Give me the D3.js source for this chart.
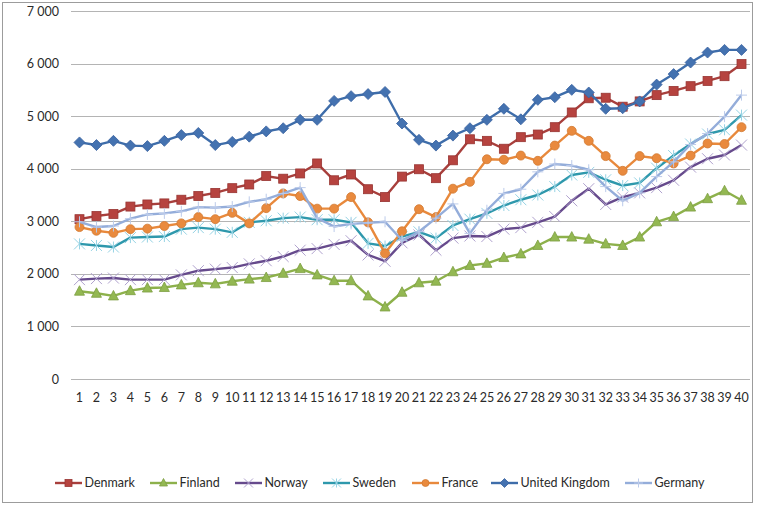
<!DOCTYPE html>
<html><head><meta charset="utf-8">
<script src="https://cdn.jsdelivr.net/npm/d3@7/dist/d3.min.js"></script>
<style>
html,body{margin:0;padding:0;background:#fff;}
svg{display:block;font-family:Lato,"Open Sans",sans-serif;}
</style></head>
<body>
<svg id="chart" width="757" height="506"></svg>
<script>
const categories = d3.range(1, 41);
const yTicks = [0, 1000, 2000, 3000, 4000, 5000, 6000, 7000];

const denmark = [3040,3100,3140,3280,3320,3340,3410,3480,3540,3630,3700,3860,3810,3910,4100,3780,3890,3610,3460,3850,3990,3820,4160,4560,4530,4380,4600,4650,4790,5070,5340,5350,5180,5280,5400,5480,5570,5670,5760,5990];
const finland = [1670,1630,1580,1680,1730,1740,1790,1830,1810,1860,1900,1930,2010,2100,1980,1870,1870,1580,1370,1650,1830,1860,2040,2160,2200,2310,2380,2540,2700,2700,2660,2570,2540,2700,2990,3090,3270,3430,3580,3400];
const norway = [1890,1910,1920,1890,1890,1890,1980,2060,2090,2120,2190,2250,2330,2450,2480,2560,2630,2360,2240,2590,2740,2450,2680,2720,2710,2850,2880,2980,3090,3390,3620,3320,3460,3540,3640,3780,4030,4190,4260,4450];
const sweden = [2570,2540,2510,2690,2700,2710,2850,2880,2850,2790,2980,3010,3060,3080,3030,3030,2980,2580,2530,2710,2800,2680,2920,3040,3150,3300,3410,3500,3660,3880,3930,3790,3680,3730,4010,4250,4470,4660,4740,5020];
const france = [2890,2820,2780,2850,2860,2910,2960,3080,3040,3160,2960,3250,3530,3480,3240,3240,3460,2980,2390,2810,3230,3080,3620,3750,4180,4170,4250,4150,4440,4720,4530,4240,3960,4240,4200,4100,4250,4480,4470,4790];
const uk = [4500,4450,4530,4440,4430,4530,4640,4680,4450,4510,4610,4710,4770,4930,4930,5290,5380,5420,5460,4860,4550,4440,4630,4770,4930,5140,4940,5310,5360,5500,5450,5140,5150,5280,5600,5800,6020,6210,6260,6260];
const germany = [2990,2890,2910,3050,3130,3150,3190,3270,3260,3280,3370,3420,3530,3640,3060,2900,2950,2970,2990,2640,2800,3060,3330,2770,3210,3530,3610,3940,4090,4060,3980,3660,3390,3540,3850,4130,4460,4670,4990,5400];

const seriesNames = ["Denmark","Finland","Norway","Sweden","France","United Kingdom","Germany"];
const seriesValues = [denmark, finland, norway, sweden, france, uk, germany];
const lineColors = ["#A83F3C","#8DB14B","#664A8C","#2E98AC","#E8893C","#3E6DAA","#94ADDA"];
const markerFill = ["#B6433F","#93B852","#B0A2CE","#96D3E4","#E98A3E","#4472B0","#BCCBEA"];
const markerStroke = ["#983532","#7E9E43","#B0A2CE","#96D3E4","#D27A32","#3A62A0","#BCCBEA"];
const markerShape = ["square","triangle","x","asterisk","circle","diamond","plus"];

const svg = d3.select("#chart");
svg.append("rect").attr("x",2.5).attr("y",2.5).attr("width",750).attr("height",500)
  .attr("fill","#fff").attr("stroke","#9c9c9c").attr("stroke-width",1);

const plotLeft = 71, plotRight = 750, plotTop = 11, plotBottom = 379;
const x = d3.scaleBand().domain(categories).range([plotLeft, plotRight]);
const y = d3.scaleLinear().domain([0, 7000]).range([plotBottom, plotTop]);

svg.append("g").selectAll("line").data(yTicks).join("line")
  .attr("x1", plotLeft).attr("x2", plotRight)
  .attr("y1", d => Math.round(y(d)) + 0.5).attr("y2", d => Math.round(y(d)) + 0.5)
  .attr("stroke", "#b4b4b4").attr("stroke-width", 1);

const yAxis = d3.axisLeft(y).tickValues(yTicks).tickSize(0).tickPadding(0)
  .tickFormat(d => d === 0 ? "0" : d3.format(",")(d).replace(",", " "));
const gy = svg.append("g").attr("transform", "translate(59,0)").call(yAxis);
gy.select(".domain").remove();
gy.selectAll("text").attr("font-size", 12.5).attr("fill", "#2a2a2a").attr("font-family", "Lato, sans-serif");

const xAxis = d3.axisBottom(x).tickSize(0).tickPadding(0);
const gx = svg.append("g").attr("transform", `translate(0,${plotBottom + 14})`).call(xAxis);
gx.select(".domain").remove();
gx.selectAll("text").attr("font-size", 12.5).attr("fill", "#2a2a2a").attr("font-family", "Lato, sans-serif");

const cx = d => x(d) + x.bandwidth() / 2;
const line = d3.line().x((d, i) => cx(categories[i])).y(d => y(d));

function drawMarker(g, shape, px, py, i, s) {
  const r = s / 2;
  if (shape === "square") {
    g.append("rect").attr("x", px - r).attr("y", py - r).attr("width", s).attr("height", s)
      .attr("fill", markerFill[i]).attr("stroke", markerStroke[i]).attr("stroke-width", 0.8);
  } else if (shape === "diamond") {
    g.append("path").attr("d", `M${px},${py - r - 1}L${px + r + 1},${py}L${px},${py + r + 1}L${px - r - 1},${py}Z`)
      .attr("fill", markerFill[i]).attr("stroke", markerStroke[i]).attr("stroke-width", 0.8);
  } else if (shape === "circle") {
    g.append("circle").attr("cx", px).attr("cy", py).attr("r", r)
      .attr("fill", markerFill[i]).attr("stroke", markerStroke[i]).attr("stroke-width", 0.8);
  } else if (shape === "triangle") {
    g.append("path").attr("d", `M${px},${py - r - 1}L${px + r + 0.5},${py + r - 0.5}L${px - r - 0.5},${py + r - 0.5}Z`)
      .attr("fill", markerFill[i]).attr("stroke", markerStroke[i]).attr("stroke-width", 0.8);
  } else {
    const rr = r + 1;
    let d = "";
    if (shape === "x" || shape === "asterisk") d += `M${px - rr},${py - rr}L${px + rr},${py + rr}M${px - rr},${py + rr}L${px + rr},${py - rr}`;
    if (shape === "asterisk") d += `M${px},${py - rr}L${px},${py + rr}`;
    if (shape === "plus") d += `M${px - rr},${py}L${px + rr},${py}M${px},${py - rr}L${px},${py + rr}`;
    g.append("path").attr("d", d).attr("stroke", markerFill[i]).attr("stroke-width", 1).attr("fill", "none");
  }
}

seriesValues.forEach((vals, i) => {
  const g = svg.append("g");
  g.append("path").attr("d", line(vals)).attr("fill", "none")
    .attr("stroke", lineColors[i]).attr("stroke-width", 2.4).attr("stroke-linejoin", "round");
  vals.forEach((v, j) => drawMarker(g, markerShape[i], cx(categories[j]), y(v), i, 9));
});

const legendX = [55, 150, 235, 323, 412, 491, 625];
const ly = 483;
const lg = svg.append("g");
seriesNames.forEach((name, i) => {
  const x0 = legendX[i];
  lg.append("line").attr("x1", x0).attr("x2", x0 + 27).attr("y1", ly).attr("y2", ly)
    .attr("stroke", lineColors[i]).attr("stroke-width", 2.4);
  drawMarker(lg, markerShape[i], x0 + 13.5, ly, i, 7);
  lg.append("text").attr("x", x0 + 29.5).attr("y", ly).attr("dy", "0.35em")
    .attr("font-size", 12.5).attr("fill", "#2a2a2a").text(name);
});
</script>
</body></html>
